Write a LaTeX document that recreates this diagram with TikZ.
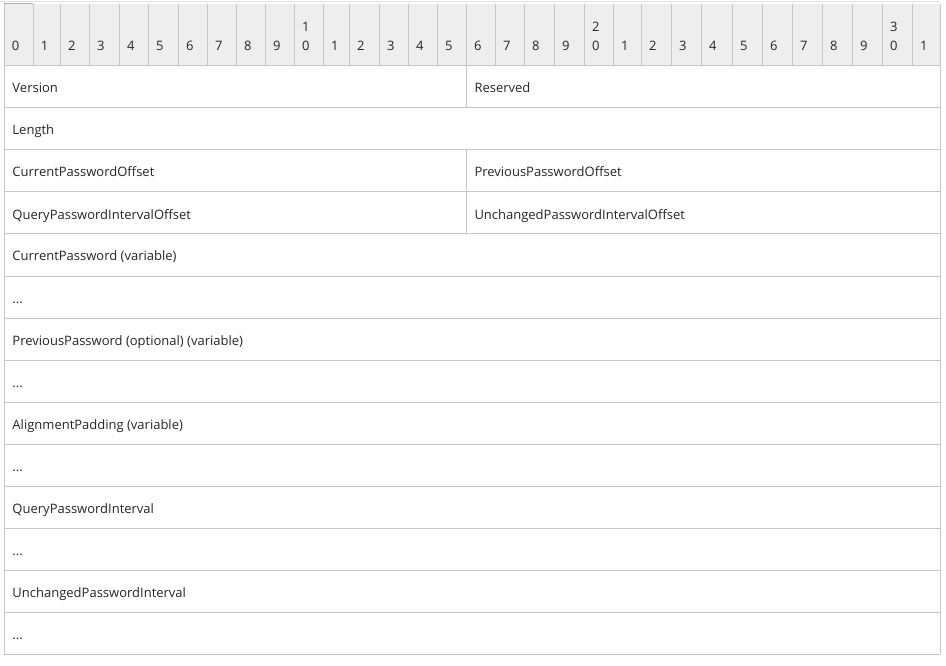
\documentclass[tikz,border=0pt]{standalone}
\usepackage{fontspec}
\setmainfont{Open Sans}
\definecolor{grid}{HTML}{C6C6C6}
\definecolor{head}{HTML}{EEEEEE}
\newcommand\contd{...}
\begin{document}
\begin{tikzpicture}[x=1pt,y=-1pt,line width=1pt,
  cell/.style={anchor=base west,inner sep=0pt,font=\fontsize{13}{15}\selectfont,text=black!85},
  bit/.style={anchor=base west,inner sep=0pt,font=\fontsize{13}{15}\selectfont,text=black!85}]
\useasboundingbox (0,0) rectangle (946,666);
\fill[white] (0,0) rectangle (946,666);
% header row
\fill[head] (4,4) rectangle (940,66);
\draw[black!12] (0,1.5) -- (940,1.5);
\draw[black!30] (4,4) -- (33,4);
\foreach \xa [count=\n from 0, evaluate=\n as \d using {int(mod(\n,10))}] in
  {4,33,60,89,119,148,178,207,236,265,294,323,349,379,408,437,466,495,524,554,584,613,641,671,701,732,762,792,822,852,882,912} {
  \draw[grid] (\xa,4) -- (\xa,66);
  \node[bit] (b\n) at (\xa+7.5,51) {\d};
  \ifnum\n>0 \ifnum\d=0
    \pgfmathtruncatemacro\t{\n/10}
    \node[bit] (t\n) at (\xa+7.5,32) {\t};
  \fi\fi
}
\draw[grid] (940,4) -- (940,654);
% rows
\foreach \ya in {66,108,...,654} \draw[grid] (4,\ya) -- (940,\ya);
\draw[grid] (4,4) -- (4,654);
\draw[grid] (466,66) -- (466,108) (466,150) -- (466,234);
\foreach \ya/\txt [count=\r] in {93/Version,135/Length,177/CurrentPasswordOffset,
  219/QueryPasswordIntervalOffset,261/CurrentPassword (variable),303/\contd,
  345/PreviousPassword (optional) (variable),387/\contd,429/AlignmentPadding (variable),
  471/\contd,513/QueryPasswordInterval,555/\contd,597/UnchangedPasswordInterval,639/\contd}
  \node[cell] (r\r) at (12,\ya) {\txt};
\node[cell] (reserved) at (474,93) {Reserved};
\node[cell] (prevoff) at (474,177) {PreviousPasswordOffset};
\node[cell] (unchoff) at (474,219) {UnchangedPasswordIntervalOffset};
\end{tikzpicture}
\end{document}
